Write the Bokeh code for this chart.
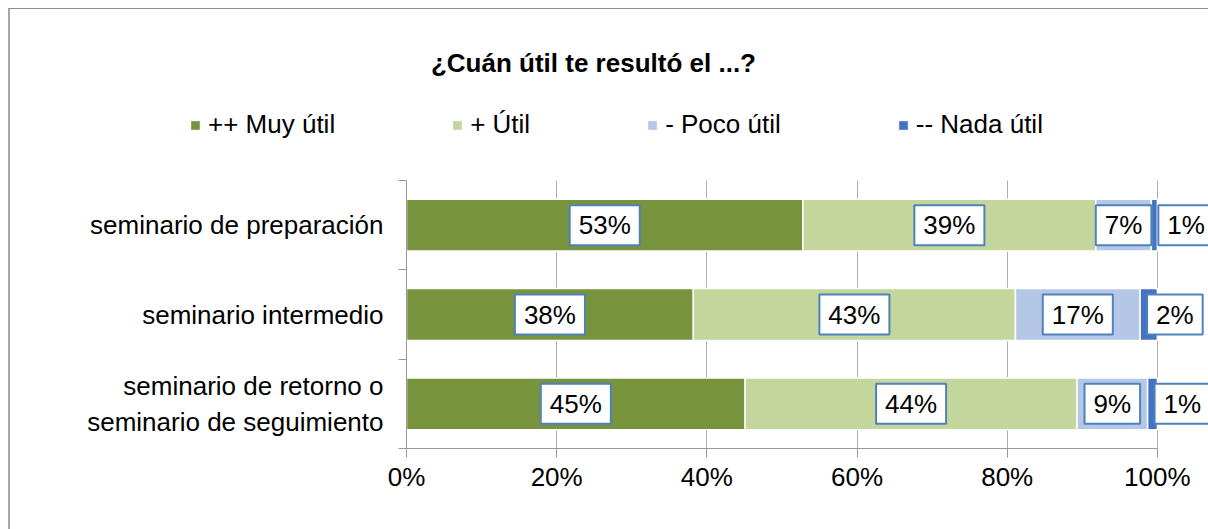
import numpy as np
from bokeh.plotting import figure
from bokeh.layouts import column
from bokeh.models import (ColumnDataSource, Range1d, FixedTicker, NumeralTickFormatter,
                          Label, Legend, LegendItem)
from bokeh.embed import file_html
from bokeh.resources import INLINE

# ---- data ----
categories = ["seminario de preparación", "seminario intermedio",
              "seminario de retorno o\nseminario de seguimiento"]
series_names = ["++ Muy útil", "+ Útil", "- Poco útil", "-- Nada útil"]
muy_util = [52.8, 38.2, 45.1]
util = [39.0, 42.9, 44.2]
poco_util = [7.4, 16.6, 9.4]
nada_util = [0.8, 2.3, 1.3]
x_ticks = [0, 0.2, 0.4, 0.6, 0.8, 1.0]
title_text = "¿Cuán útil te resultó el ...?"

colors = ["#77933C", "#C3D69B", "#B4C7E7", "#4472C4"]
FONT = "Liberation Sans"
FS = "26px"
AXIS_COL = "#999999"
GRID_COL = "#AFAFAF"
BOX_COL = "#4F81BD"
BORDER_L = "2px solid #A6A6A6"
BORDER_T = "1px solid #8C8C8C"

y_pos = [3, 2, 1]  # categories from top to bottom

W = 1200          # element width (border included)
CW = W - 2        # canvas width
HEAD_H = 172
FRAME_L = 396
FRAME_W = 749


def no_align(fig):
    try:
        fig.frame_align = False
    except Exception:
        pass


# ---------- header: title + legend ----------
head = figure(width=W, height=HEAD_H, output_backend="svg", toolbar_location=None,
              x_range=Range1d(0, CW), y_range=Range1d(HEAD_H - 1, 0),
              x_axis_type=None, y_axis_type=None,
              min_border_left=0, min_border_right=0, min_border_top=0, min_border_bottom=0)
no_align(head)
head.styles = {"border-left": BORDER_L, "border-top": BORDER_T}
head.grid.visible = False
head.outline_line_color = None

head.add_layout(Label(x=582, y=53, text=title_text, text_align="center",
                      text_baseline="middle", text_font=FONT, text_font_size=FS,
                      text_font_style="bold", text_color="black"))

dummy = []
for col in colors:
    dummy.append(head.hbar(y=[-100], left=[0], right=[0], height=1, fill_color=col,
                           line_color="white", line_width=1))
legend = Legend(items=[LegendItem(label=n, renderers=[r]) for n, r in zip(series_names, dummy)],
                orientation="horizontal", location=(179, 41), padding=0, margin=0,
                spacing=116, glyph_width=12, glyph_height=12, label_standoff=7,
                label_text_font=FONT, label_text_font_size=FS, label_text_color="black",
                border_line_color=None, background_fill_alpha=0)
head.add_layout(legend, "center")

# ---------- main chart ----------
x_end = (CW - FRAME_L) / FRAME_W
p = figure(width=W, height=529 - 8 - HEAD_H, output_backend="svg", toolbar_location=None,
           x_range=Range1d(0, x_end), y_range=Range1d(0.5, 3.5),
           min_border_left=FRAME_L, min_border_right=0, min_border_top=0,
           min_border_bottom=81)
no_align(p)
p.styles = {"border-left": BORDER_L}
p.outline_line_color = None

series = [muy_util, util, poco_util, nada_util]
left = np.zeros(len(categories))
labels = []
for i, (name, vals, col) in enumerate(zip(series_names, series, colors)):
    frac = np.array(vals) / 100.0
    right = left + frac
    src = ColumnDataSource(dict(y=y_pos, left=left, right=right))
    p.hbar(y="y", left="left", right="right", height=0.58, source=src,
           fill_color=col, line_color="white", line_width=1.5)
    for j, v in enumerate(vals):
        common = dict(y=y_pos[j], text=f"{round(v)}%", text_baseline="middle",
                      text_font=FONT, text_font_size=FS, text_color="black",
                      background_fill_color="white", border_line_color=BOX_COL,
                      border_line_width=2, padding=(9, 5))
        if i < 3:
            lb = Label(x=(left[j] + right[j]) / 2, text_align="center", **common)
        else:
            lb = Label(x=left[j], text_align="left", x_offset=7, **common)
        labels.append(lb)
    left = right

for lb in labels:
    p.add_layout(lb)

# axes
p.yaxis.ticker = FixedTicker(ticks=y_pos, minor_ticks=[0.5, 1.5, 2.5, 3.5])
p.yaxis.major_label_overrides = {y: c for y, c in zip(y_pos, categories)}
p.yaxis.major_tick_out = 0
p.yaxis.major_tick_in = 0
p.yaxis.minor_tick_out = 8
p.yaxis.minor_tick_in = 0
p.yaxis.major_label_standoff = 15
p.yaxis.axis_line_color = AXIS_COL
p.yaxis.minor_tick_line_color = AXIS_COL

p.xaxis.ticker = FixedTicker(ticks=x_ticks)
p.xaxis.formatter = NumeralTickFormatter(format="0%")
p.xaxis.bounds = (0, 1)
p.xaxis.major_tick_out = 9
p.xaxis.major_tick_in = 0
p.xaxis.minor_tick_out = 0
p.xaxis.minor_tick_in = 0
p.xaxis.major_label_standoff = 4
p.xaxis.axis_line_color = AXIS_COL
p.xaxis.major_tick_line_color = AXIS_COL

for ax in (p.xaxis, p.yaxis):
    ax.major_label_text_font = FONT
    ax.major_label_text_font_size = FS
    ax.major_label_text_color = "black"

p.xgrid.ticker = FixedTicker(ticks=x_ticks)
p.xgrid.grid_line_color = GRID_COL
p.ygrid.visible = False

layout = column(head, p, spacing=0,
                styles={"margin-left": "8px", "margin-top": "8px"})
open("out.html", "w").write(file_html(layout, INLINE))
